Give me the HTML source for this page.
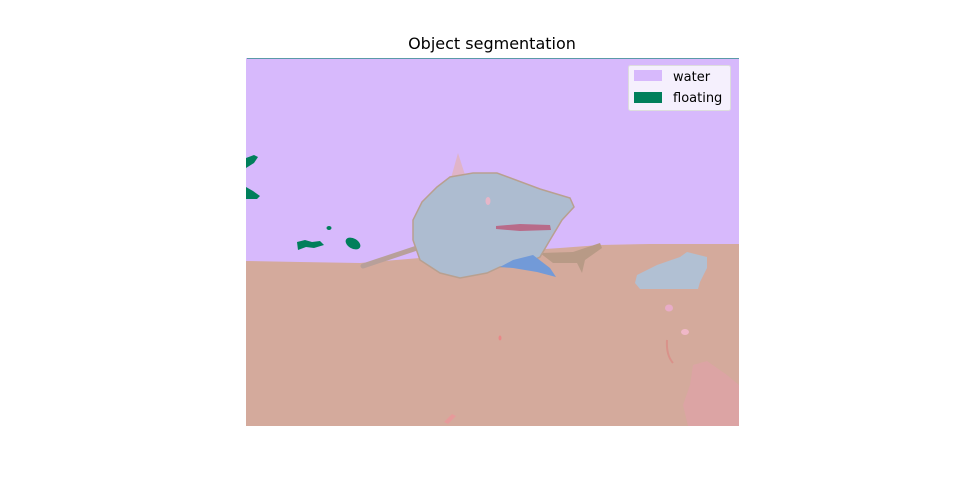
<!DOCTYPE html>
<html><head><meta charset="utf-8"><style>
html,body{margin:0;padding:0;background:#fff;}
svg{display:block;font-family:"DejaVu Sans","Liberation Sans",sans-serif;}
</style></head><body>
<svg width="960" height="480" viewBox="0 0 960 480">
<text x="492" y="49" text-anchor="middle" font-size="16" fill="#000">Object segmentation</text>
<g>
<rect x="246" y="58" width="493" height="368" fill="#d7b9fc"/>
<path d="M246 261 L300 262 L360 263 L420 258 L500 252 L560 248 L600 245 L650 244 L739 244 L739 426 L246 426 Z" fill="#d4aa9c"/>
<line x1="247" y1="58.5" x2="739" y2="58.5" stroke="#5a9aa8" stroke-width="1"/>
<g fill="#007f5b">
<path d="M246 158 L254 155 L258 157 L254 163 L246 168 Z"/>
<path d="M246 187 L253 191 L260 196 L257 199 L246 199 Z"/>
<path d="M297 242 L305 240 L312 242 L320 241 L324 245 L314 248 L306 247 L298 250 Z"/>
<ellipse cx="353" cy="243.5" rx="8" ry="5" transform="rotate(30 353 243.5)"/>
<ellipse cx="329" cy="228" rx="2.5" ry="2"/>
</g>
<line x1="363" y1="266" x2="432" y2="243" stroke="#b8a09a" stroke-width="5" stroke-linecap="round"/>
<path d="M540 253 L573 252 L600 243 L602 248 L585 260 L582 273 L577 263 L553 263 Z" fill="#b89a86"/>
<path d="M451 178 L458 153 L466 178 Z" fill="#e0b4c8"/>
<path d="M437 187 L450 177 L473 173 L497 173 L540 189 L570 198 L574 207 L562 220 L550 240 L540 257 L527 263 L500 267 L487 273 L460 278 L440 273 L420 260 L413 240 L413 220 L422 202 Z" fill="#adbcd0" stroke="#b8a090" stroke-width="1.5"/>
<ellipse cx="488" cy="201" rx="2.5" ry="4" fill="#e5b6c8"/>
<path d="M496 226 L520 224 L550 225 L551 230 L520 231 L496 229 Z" fill="#b86b89"/>
<path d="M500 267 L513 260 L533 255 L550 268 L556 277 L537 272 L513 268 Z" fill="#729ad8"/>
<path d="M637 275 L657 265 L680 257 L687 252 L707 257 L707 268 L700 282 L698 289 L640 289 L635 283 Z" fill="#b1c0d3"/>
<path d="M693 365 L707 361 L727 375 L739 385 L739 426 L688 426 L683 405 L690 385 Z" fill="#dca4a4"/>
<ellipse cx="669" cy="308" rx="4" ry="3.5" fill="#e8acc8"/>
<ellipse cx="685" cy="332" rx="4" ry="3" fill="#f0b8c8"/>
<path d="M667 340 Q666 355 673 363" stroke="#d9928a" stroke-width="2" fill="none"/>
<ellipse cx="500" cy="338" rx="1.5" ry="2.5" fill="#e88888"/>
<path d="M444 422 L452 414 L456 416 L448 424 Z" fill="#e69a9a"/>
</g>
<g>
<rect x="628.5" y="65.5" width="102" height="45" rx="2" fill="#f5f0fd" stroke="#dddddd"/>
<rect x="634" y="70" width="28" height="11" fill="#d7b9fc"/>
<text x="673" y="81" font-size="13" fill="#000">water</text>
<rect x="634" y="92" width="28" height="11" fill="#007f5b"/>
<text x="673" y="102" font-size="13" fill="#000">floating</text>
</g>
</svg>
</body></html>
